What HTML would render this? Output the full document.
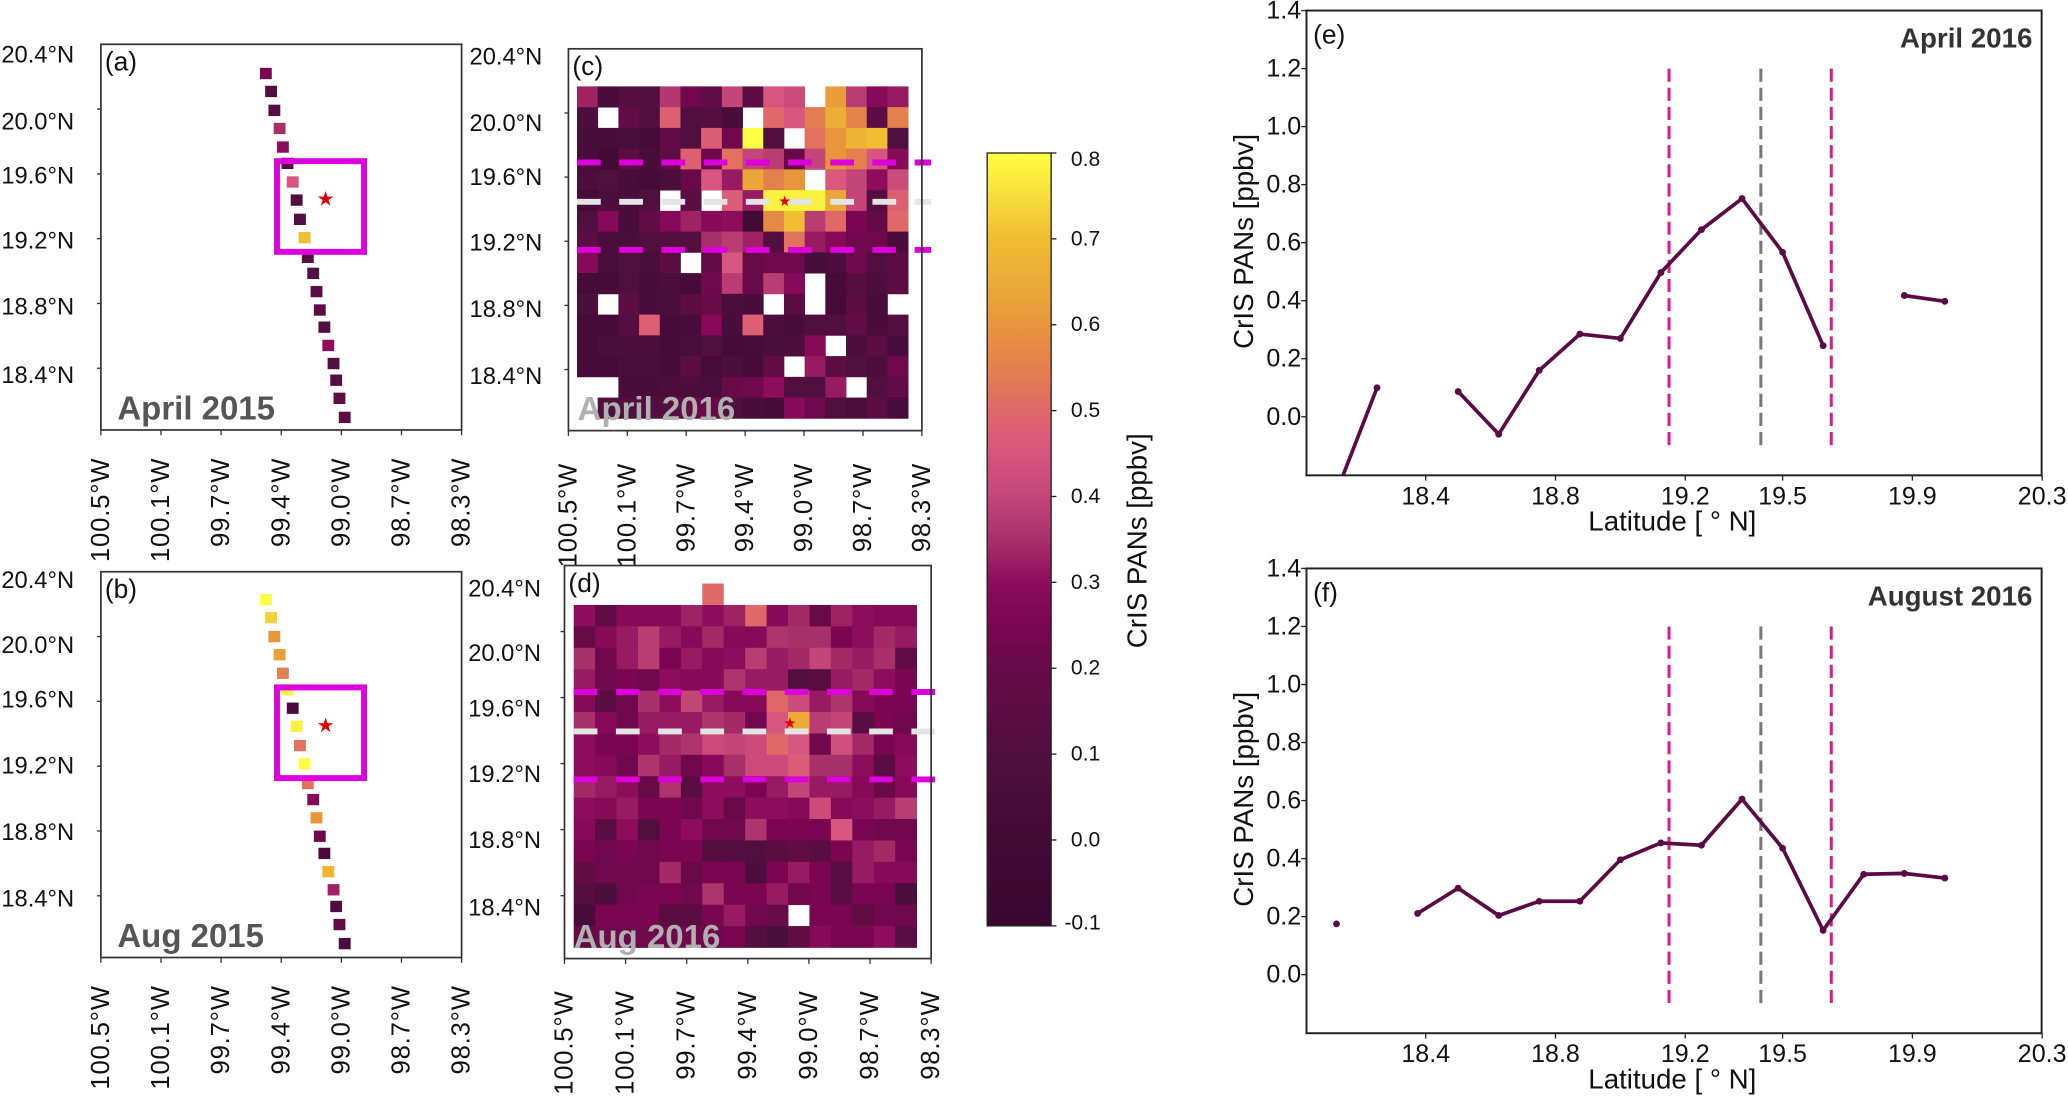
<!DOCTYPE html>
<html><head><meta charset="utf-8"><style>
html,body{margin:0;padding:0;background:#fff;}
svg{display:block;}
.nar{font-family:"Liberation Sans Narrow","Liberation Sans",sans-serif;}
.reg{font-family:"Liberation Sans",sans-serif;}
</style></head><body>
<svg id="fig" width="2068" height="1096" viewBox="0 0 1568 831" xmlns="http://www.w3.org/2000/svg">
<defs><linearGradient id="cbgrad" x1="0" y1="1" x2="0" y2="0"></linearGradient></defs>
<g id="layer"></g>
</svg>
<script>
// ---------- data ----------
const trackLat=[20.287,20.175,20.057,19.944,19.828,19.726,19.61,19.497,19.377,19.263,19.14,19.04,18.926,18.811,18.704,18.59,18.477,18.373,18.26,18.141];
const trackLon=[-99.494,-99.462,-99.442,-99.41,-99.39,-99.362,-99.33,-99.306,-99.286,-99.258,-99.238,-99.205,-99.185,-99.165,-99.137,-99.113,-99.081,-99.065,-99.045,-99.013];
const apr2015Vals=[0.25,0.1,0.12,0.35,0.3,0.12,0.45,0.1,0.1,0.7,0.12,0.12,0.15,0.15,0.12,0.3,0.12,0.12,0.15,0.15];
const aug2015Vals=[0.8,0.73,0.6,0.62,0.55,0.78,0.05,0.78,0.52,0.8,0.52,0.28,0.6,0.22,0.05,0.68,0.33,0.08,0.18,0.05];
const N=null;
const apr2016Grid=[
[0.33,0.05,0.12,0.1,0.37,0.22,0.18,0.4,0.15,0.45,0.42,N,0.62,0.38,0.28,0.32],
[0.08,N,0.18,0.1,0.48,0.1,0.12,0.05,N,0.5,0.45,0.54,0.66,0.56,0.15,0.55],
[0.05,0.05,0.06,0.02,0.18,0.1,0.47,0.22,0.8,0.1,N,0.52,0.6,0.68,0.7,0.1],
[0.05,0.0,0.15,0.05,0.15,0.48,0.22,0.52,0.4,0.38,0.2,0.4,0.6,0.55,0.45,0.28],
[0.08,0.1,0.05,0.02,0.06,0.2,0.45,0.32,0.64,0.55,0.6,N,0.46,0.4,0.3,0.42],
[0.02,0.08,0.05,0.1,N,0.15,N,0.47,0.32,0.78,0.78,0.78,0.64,0.4,0.12,0.48],
[0.1,0.28,0.05,0.18,0.28,0.33,0.28,0.3,0.0,0.57,0.7,0.38,0.5,0.25,0.18,0.5],
[0.15,0.06,0.06,0.1,0.12,0.12,0.35,0.38,0.33,0.12,0.52,0.32,0.28,0.22,0.22,0.05],
[0.28,0.06,0.1,0.06,0.15,N,0.18,0.45,0.2,0.22,0.22,0.05,0.08,0.22,0.1,0.15],
[0.02,0.02,0.1,0.05,0.08,0.02,0.22,0.38,0.2,0.38,0.28,N,0.02,0.12,0.08,0.15],
[0.08,N,0.15,0.05,0.06,0.15,0.2,0.06,0.05,N,0.15,N,0.02,0.15,0.05,N],
[0.02,0.02,0.12,0.48,0.02,0.05,0.28,0.05,0.48,0.08,0.05,0.1,0.1,0.18,0.05,0.12],
[0.02,0.06,0.08,0.08,0.02,0.06,0.1,0.02,0.03,0.06,0.08,0.28,N,0.08,0.15,0.05],
[0.02,0.02,0.06,0.06,0.02,0.15,0.03,0.08,0.02,0.18,N,0.32,0.15,0.1,0.08,0.22],
[N,N,0.05,0.05,0.08,0.08,0.06,0.2,0.22,0.3,0.1,0.1,0.32,N,0.1,0.18],
[N,0.1,0.1,0.1,0.12,0.2,0.2,0.1,0.05,0.02,0.28,0.22,0.1,0.08,0.15,0.05]];
const aug2016Grid=[
[0.3,0.17,0.28,0.28,0.28,0.33,0.3,0.33,0.5,0.28,0.34,0.2,0.33,0.3,0.28,0.28],
[0.2,0.28,0.32,0.38,0.32,0.28,0.34,0.28,0.28,0.36,0.35,0.35,0.25,0.3,0.34,0.32],
[0.35,0.22,0.32,0.38,0.25,0.32,0.28,0.3,0.38,0.32,0.34,0.4,0.34,0.32,0.35,0.17],
[0.32,0.22,0.25,0.22,0.3,0.28,0.28,0.36,0.32,0.32,0.12,0.14,0.32,0.34,0.3,0.25],
[0.28,0.14,0.22,0.35,0.3,0.4,0.32,0.28,0.28,0.5,0.42,0.32,0.36,0.28,0.25,0.25],
[0.35,0.28,0.22,0.32,0.32,0.32,0.36,0.34,0.22,0.45,0.65,0.38,0.4,0.14,0.25,0.22],
[0.3,0.25,0.25,0.3,0.34,0.36,0.42,0.4,0.42,0.5,0.45,0.22,0.43,0.34,0.25,0.28],
[0.3,0.28,0.22,0.36,0.32,0.22,0.28,0.35,0.42,0.42,0.47,0.35,0.35,0.3,0.14,0.3],
[0.34,0.32,0.3,0.2,0.36,0.14,0.3,0.3,0.25,0.32,0.4,0.32,0.32,0.28,0.2,0.28],
[0.3,0.28,0.32,0.25,0.25,0.22,0.3,0.2,0.3,0.3,0.28,0.42,0.28,0.3,0.32,0.38],
[0.28,0.14,0.3,0.1,0.25,0.3,0.22,0.22,0.36,0.25,0.25,0.25,0.45,0.25,0.22,0.22],
[0.25,0.22,0.25,0.22,0.25,0.25,0.12,0.12,0.1,0.14,0.17,0.14,0.25,0.32,0.34,0.25],
[0.17,0.22,0.22,0.22,0.34,0.2,0.25,0.25,0.07,0.25,0.32,0.25,0.14,0.32,0.28,0.28],
[0.12,0.07,0.22,0.25,0.25,0.22,0.36,0.25,0.25,0.32,0.22,0.25,0.14,0.25,0.25,0.07],
[0.04,0.25,0.25,0.25,0.14,0.14,0.25,0.32,0.22,0.2,N,0.25,0.25,0.17,0.22,0.22],
[0.17,0.22,0.22,0.22,0.22,0.22,0.22,0.25,0.12,0.07,0.17,0.28,0.25,0.25,0.3,0.14]];
const aug2016Extra=[{row:-1,col:6,v:0.5}];
const lineLat=[18.125,18.25,18.375,18.5,18.625,18.75,18.875,19.0,19.125,19.25,19.375,19.5,19.625,19.75,19.875,20.0];
const apr2016Line=[-0.26,0.10,N,0.087,-0.06,0.16,0.285,0.27,0.497,0.645,0.752,0.567,0.245,N,0.418,0.398];
const aug2016Line=[0.175,N,0.211,0.298,0.204,0.253,0.253,0.396,0.454,0.446,0.605,0.436,0.153,0.346,0.349,0.333];
const yTicks=[0.0,0.2,0.4,0.6,0.8,1.0,1.2,1.4];
const yTickLabels=["0.0","0.2","0.4","0.6","0.8","1.0","1.2","1.4"];
const xTicks=[18.4,18.8,19.2,19.5,19.9,20.3];
const xTickLabels=["18.4","18.8","19.2","19.5","19.9","20.3"];
const vLines=[19.15,19.433,19.65];
const cbTicks=[-0.1,0.0,0.1,0.2,0.3,0.4,0.5,0.6,0.7,0.8];
const cbTickLabels=["-0.1","0.0","0.1","0.2","0.3","0.4","0.5","0.6","0.7","0.8"];
const lonTickLabels=["100.5°W","100.1°W","99.7°W","99.4°W","99.0°W","98.7°W","98.3°W"];
const latTickLabels=["20.4°N","20.0°N","19.6°N","19.2°N","18.8°N","18.4°N"];

// ---------- helpers ----------
const NS="http://www.w3.org/2000/svg";
const L=document.getElementById('layer');
function mk(tag,attrs,parent){const e=document.createElementNS(NS,tag);for(const k in attrs)e.setAttribute(k,attrs[k]);(parent||L).appendChild(e);return e;}
function txt(s,attrs,parent){const e=mk('text',attrs,parent);e.textContent=s;return e;}
const stops=[[-0.1,[58,6,48]],[0,[67,10,54]],[0.1,[80,15,63]],[0.2,[104,10,72]],[0.25,[122,6,82]],[0.3,[142,12,92]],[0.35,[168,48,106]],[0.4,[196,69,120]],[0.45,[216,85,128]],[0.5,[224,104,104]],[0.55,[228,128,78]],[0.6,[232,150,60]],[0.7,[240,189,51]],[0.8,[254,254,66]]];
function cmap(v){v=Math.max(-0.1,Math.min(0.8,v));for(let i=1;i<stops.length;i++){if(v<=stops[i][0]){const a=stops[i-1],b=stops[i],t=(v-a[0])/(b[0]-a[0]);const c=a[1].map((x,j)=>Math.round(x+(b[1][j]-x)*t));return `rgb(${c[0]},${c[1]},${c[2]})`;}}return 'rgb(254,254,66)';}

// ---------- map panels ----------
const maps={
 a:{fx:76.5,fy:33.6,fw:273.5,fh:292.4,lab:"(a)",title:"April 2015",tc:"#555",yl:[42,93,134,183,233,285],lx:1,xl:347},
 b:{fx:76.5,fy:433.5,fw:273.5,fh:292.5,lab:"(b)",title:"Aug 2015",tc:"#555",yl:[440.7,489.7,531.3,581,631.5,682],lx:1,xl:747},
 c:{fx:431,fy:37,fw:268,fh:289.5,lab:"(c)",title:"April 2016",tc:"#b0b0b0",yl:[43.7,94,135,184.7,235,286],lx:356,xl:351},
 d:{fx:428,fy:428.8,fw:278,fh:298,lab:"(d)",title:"Aug 2016",tc:"#b0b0b0",yl:[446.8,496,538,587.7,637.6,689],lx:355,xl:751}
};
function lonX(p,lon){return p.fx+(lon+100.5)*p.fw/2.2;}
function latY(p,lat,base){return base+(20.4-lat)*121.5;}

function drawFrame(key){
 const g=mk('g',{});
 return g;
}
function drawAxes(key,g){
 const p=maps[key];
 mk('rect',{x:p.fx,y:p.fy,width:p.fw,height:p.fh,fill:'none',stroke:'#333','stroke-width':1.3},g);
 for(let i=0;i<7;i++){const x=p.fx+i*p.fw/6;
  mk('line',{x1:x,y1:p.fy+p.fh,x2:x,y2:p.fy+p.fh+4,stroke:'#333','stroke-width':1},g);
  const t=txt(lonTickLabels[i],{x:0,y:0,'font-size':19.5,'letter-spacing':0.6,'text-anchor':'end','dominant-baseline':'central',class:'reg',fill:'#111',transform:`translate(${x},${p.xl}) rotate(-90)`},g);
  
 }
 for(let i=1;i<6;i++){const y=p.fy+p.fh*(i*0.168);mk('line',{x1:p.fx-3,y1:y,x2:p.fx,y2:y,stroke:'#333','stroke-width':1},g);}
 latTickLabels.forEach((s,i)=>{const t=txt(s,{x:p.lx,y:p.yl[i],'font-size':18,'dominant-baseline':'central',class:'nar',fill:'#111'},g);
  });
 const pl=txt(p.lab,{x:p.fx+3,y:p.fy+20,'font-size':20,class:'nar',fill:'#111'},g);
 
}
function drawTitle(key,g){
 const p=maps[key];
 const t=txt(p.title,{x:p.fx+(key==='a'||key==='b'?12.5:7),y:p.fy+p.fh-8,'font-size':25,'font-weight':'bold',class:'nar',fill:p.tc},g);
 
}
function drawTrack(key,vals,base){
 const p=maps[key];const g=drawFrame(key);
 vals.forEach((v,i)=>{const x=lonX(p,trackLon[i]),y=latY(p,trackLat[i],base);
  const r=mk('rect',{x:x-4.5,y:y-4.3,width:9,height:8.6,fill:cmap(v)},g);
  });
 const bx=lonX(p,-99.426),bx2=lonX(p,-98.895),by=latY(p,19.74,base),by2=latY(p,19.174,base);
 const b=mk('rect',{x:bx,y:by,width:bx2-bx,height:by2-by,fill:'none',stroke:'#dd00dd','stroke-width':4.5},g);
 
 const sx=lonX(p,-99.13),sy=latY(p,19.5,base);
 const s=txt('★',{x:sx,y:sy,'font-size':15,'text-anchor':'middle','dominant-baseline':'central',fill:'#e00000',class:'reg'},g);
 
 drawAxes(key,g);drawTitle(key,g);
}
function drawGrid(key,grid,x0,cw,y0,ch,extra,lines,star){
 const p=maps[key];const g=drawFrame(key);
 grid.forEach((row,r)=>row.forEach((v,c)=>{if(v===null)return;
  const e=mk('rect',{x:x0+c*cw,y:y0+r*ch,width:cw+0.3,height:ch+0.3,fill:cmap(v)},g);
  }));
 (extra||[]).forEach(o=>{const e=mk('rect',{x:x0+o.col*cw,y:y0+o.row*ch,width:cw,height:ch,fill:cmap(o.v)},g);
  });
 drawTitle(key,g);
 lines.forEach(l=>{const e=mk('line',{x1:x0,y1:l.y,x2:p.fx+p.fw+7,y2:l.y,stroke:l.c,'stroke-width':4.5,'stroke-dasharray':'18 14'},g);
  });
 const s=txt('★',{x:star[0],y:star[1],'font-size':11,'text-anchor':'middle','dominant-baseline':'central',fill:'#e00000',class:'reg'},g);
 
 drawAxes(key,g);
}
drawTrack('a',apr2015Vals,42);
drawTrack('b',aug2015Vals,441);
drawGrid('c',apr2016Grid,437.5,15.69,65.5,15.73,[],[{y:123.2,c:'#dd00dd',n:'box-top-line'},{y:189.5,c:'#dd00dd',n:'box-bottom-line'},{y:153,c:'#e4e4e4',n:'city-lat-line'}],[595,153]);
drawGrid('d',aug2016Grid,435,16.25,458.7,16.23,aug2016Extra,[{y:524.7,c:'#dd00dd',n:'box-top-line'},{y:591,c:'#dd00dd',n:'box-bottom-line'},{y:554.6,c:'#e4e4e4',n:'city-lat-line'}],[599,549]);

// ---------- colorbar ----------
const grad=document.getElementById('cbgrad');
for(let i=0;i<=36;i++){const v=-0.1+0.9*i/36;const s=document.createElementNS(NS,'stop');s.setAttribute('offset',(i/36).toFixed(4));s.setAttribute('stop-color',cmap(v));grad.appendChild(s);}
const cb={x:748.5,y:116,w:48.5,h:586};
function cbY(v){return cb.y+cb.h-(v+0.1)/0.9*cb.h;}
const cbg=mk('g',{});
mk('rect',{x:cb.x,y:cb.y,width:cb.w,height:cb.h,fill:'url(#cbgrad)',stroke:'#222','stroke-width':1},cbg);
cbTicks.forEach((v,i)=>{const y=cbY(v);mk('line',{x1:cb.x+cb.w,y1:y,x2:cb.x+cb.w+4,y2:y,stroke:'#222','stroke-width':1},cbg);
 const t=txt(cbTickLabels[i],{x:v<0?807:812,y:y+(i===0?-2:(i===9?5:0)),'font-size':16,'dominant-baseline':'central',class:'reg',fill:'#111'},cbg);
 });
const cbt=txt('CrIS PANs [ppbv]',{x:0,y:0,'font-size':21,'text-anchor':'middle','dominant-baseline':'central',class:'reg',fill:'#111',transform:'translate(862,410) rotate(-90)'},cbg);


// ---------- line panels ----------
function drawLine(key,top,vals,label,title){
 const P={x0:990.6,x1:1548,top:top,bot:top+352.4};
 const X=lat=>1081+(lat-18.4)*246;
 const Y=v=>P.top+(1.4-v)*220;
 const g=mk('g',{});
 const cid='clip'+key;const cp=mk('clipPath',{id:cid},g);mk('rect',{x:P.x0,y:P.top,width:P.x1-P.x0,height:P.bot-P.top},cp);
 vLines.forEach((l,i)=>{const e=mk('line',{x1:X(l),y1:Y(1.2),x2:X(l),y2:Y(-0.1),stroke:i===1?'#777':'#e0188c','stroke-width':2.3,'stroke-dasharray':'10 4.5'},g);
  });
 const sg=mk('g',{'clip-path':`url(#${cid})`},g);
 let seg=[];const segs=[];
 vals.forEach((v,i)=>{if(v===null){if(seg.length)segs.push(seg);seg=[];}else seg.push([X(lineLat[i]),Y(v)]);});
 if(seg.length)segs.push(seg);
 segs.forEach(s=>{if(s.length>1){const e=mk('polyline',{points:s.map(p=>p.join(',')).join(' '),fill:'none',stroke:'#5a0a45','stroke-width':2.8,'stroke-linejoin':'round'},sg);
  }
  s.forEach(p=>{const c=mk('circle',{cx:p[0],cy:p[1],r:2.6,fill:'#5a0a45'},sg);});});
 mk('rect',{x:P.x0,y:P.top,width:P.x1-P.x0,height:P.bot-P.top,fill:'none',stroke:'#222','stroke-width':1.5},g);
 yTicks.forEach((v,i)=>{const y=Y(v);mk('line',{x1:P.x0-4,y1:y,x2:P.x0,y2:y,stroke:'#222','stroke-width':1},g);
  const t=txt(yTickLabels[i],{x:P.x0-4,y:y,'font-size':19,'text-anchor':'end','dominant-baseline':'central',class:'nar',fill:'#111'},g);
  });
 xTicks.forEach((v,i)=>{const x=X(v);mk('line',{x1:x,y1:P.bot,x2:x,y2:P.bot+4,stroke:'#222','stroke-width':1},g);
  const t=txt(xTickLabels[i],{x:x,y:P.bot+22,'font-size':19,'text-anchor':'middle',class:'nar',fill:'#111'},g);
  });
 const xt=txt('Latitude [ ° N]',{x:1268,y:P.bot+42,'font-size':21,'text-anchor':'middle',class:'nar',fill:'#111'},g);
 
 const yt=txt('CrIS PANs [ppbv]',{x:0,y:0,'font-size':21,'text-anchor':'middle','dominant-baseline':'central',class:'reg',fill:'#111',transform:`translate(943,${P.top+175}) rotate(-90)`},g);
 
 const pl=txt(label,{x:P.x0+5,y:P.top+25,'font-size':20,class:'nar',fill:'#111'},g);
 
 const tt=txt(title,{x:P.x1-7,y:P.top+28,'font-size':21,'font-weight':'bold','text-anchor':'end',class:'nar',fill:'#333'},g);
 
}
drawLine('e',8,apr2016Line,'(e)','April 2016');
drawLine('f',431,aug2016Line,'(f)','August 2016');
</script>
</body></html>
